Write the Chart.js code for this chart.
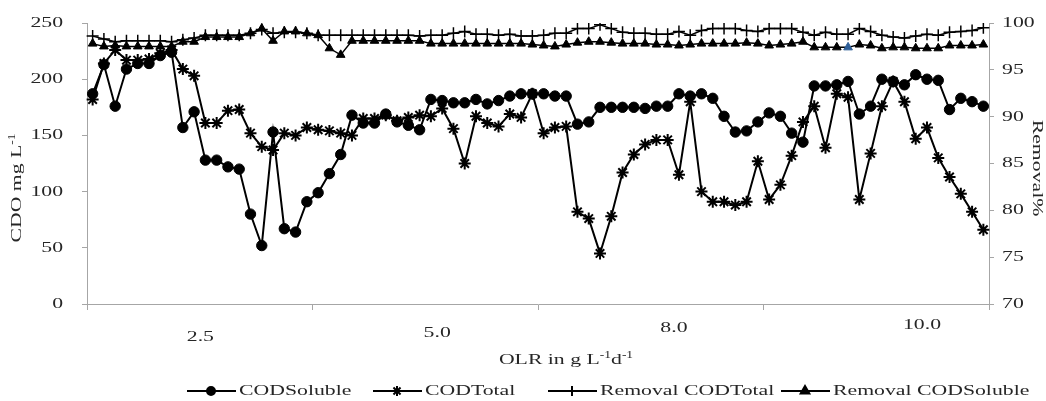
<!DOCTYPE html>
<html>
<head>
<meta charset="utf-8">
<script src="https://cdn.jsdelivr.net/npm/chart.js@4.4.1/dist/chart.umd.min.js"></script>
<style>
  html, body { margin: 0; padding: 0; background: #fff; }
</style>
</head>
<body>
<canvas id="chart" width="1046" height="401"></canvas>
<script>
// sample number along the run (80 samples, OLR rising 2.5 -> 10.0 g/L/d)
const samples = [
  1, 2, 3, 4, 5, 6, 7, 8, 9, 10, 11, 12, 13, 14, 15, 16, 17, 18, 19, 20,
  21, 22, 23, 24, 25, 26, 27, 28, 29, 30, 31, 32, 33, 34, 35, 36, 37, 38, 39, 40,
  41, 42, 43, 44, 45, 46, 47, 48, 49, 50, 51, 52, 53, 54, 55, 56, 57, 58, 59, 60,
  61, 62, 63, 64, 65, 66, 67, 68, 69, 70, 71, 72, 73, 74, 75, 76, 77, 78, 79, 80
];
const olrLabels = ['2.5', '5.0', '8.0', '10.0'];
const olrLabelAt = [10, 31, 52, 74]; // sample index the label sits over

const codSoluble = [
  187, 213, 176, 209, 214, 214, 221, 224, 157, 171, 128, 128, 122, 120, 80, 52, 153, 67, 64, 91,
  99, 116, 133, 168, 161, 161, 169, 162, 159, 155, 182, 181, 179, 179, 182, 178, 181, 185, 187, 187,
  187, 185, 185, 160, 162, 175, 175, 175, 175, 174, 176, 176, 187, 185, 187, 183, 167, 153, 154, 162,
  170, 167, 152, 144, 194, 194, 195, 198, 169, 176, 200, 198, 195, 204, 200, 199, 173, 183, 180, 176
];
const codTotal = [
  182, 214, 226, 217, 217, 218, 223, 226, 209, 203, 161, 161, 172, 173, 152, 140, 137, 152, 150, 157,
  155, 154, 152, 150, 165, 165, 168, 163, 166, 168, 167, 174, 156, 125, 167, 161, 158, 169, 166, 187,
  152, 157, 158, 82, 76, 45, 78, 117, 133, 142, 146, 146, 115, 180, 100, 91, 91, 88, 91, 127,
  93, 106, 132, 162, 176, 139, 187, 184, 93, 134, 176, 198, 180, 147, 157, 130, 113, 98, 82, 66
];
const removalTotal = [
  98.6, 98.3, 98.0, 98.1, 98.1, 98.1, 98.1, 98.0, 98.2, 98.4, 98.7, 98.7, 98.7, 98.7, 98.9, 99.3, 98.9, 99.0, 99.0, 98.9,
  98.7, 98.7, 98.7, 98.7, 98.7, 98.7, 98.7, 98.7, 98.7, 98.6, 98.7, 98.7, 98.9, 99.1, 98.8, 98.8, 98.7, 98.8, 98.6, 98.6,
  98.7, 98.9, 98.9, 99.4, 99.4, 99.8, 99.4, 99.0, 98.9, 98.9, 98.8, 98.8, 99.1, 98.7, 99.2, 99.4, 99.4, 99.4, 99.2, 99.1,
  99.4, 99.4, 99.4, 99.0, 98.7, 99.0, 98.8, 98.8, 99.4, 99.1, 98.7, 98.5, 98.4, 98.6, 98.8, 98.7, 99.0, 99.1, 99.2, 99.5
];
const removalSoluble = [
  97.8, 97.5, 97.6, 97.5, 97.5, 97.5, 97.5, 97.5, 98.0, 98.0, 98.5, 98.5, 98.5, 98.5, 98.9, 99.4, 98.1, 99.1, 99.1, 98.9,
  98.7, 97.3, 96.6, 98.1, 98.1, 98.1, 98.1, 98.1, 98.1, 98.1, 97.8, 97.8, 97.8, 97.8, 97.8, 97.8, 97.8, 97.8, 97.8, 97.7,
  97.6, 97.5, 97.7, 97.9, 98.0, 98.0, 97.9, 97.8, 97.8, 97.8, 97.7, 97.7, 97.6, 97.7, 97.8, 97.8, 97.8, 97.8, 97.9, 97.8,
  97.6, 97.7, 97.8, 98.0, 97.4, 97.4, 97.4, 97.4, 97.7, 97.6, 97.3, 97.4, 97.4, 97.3, 97.3, 97.3, 97.6, 97.6, 97.6, 97.7
];

const AXIS = '#a6a6a6';
const INK = '#262626';
const SERIF = '"Liberation Serif", "Times New Roman", serif';
const STRETCH = 1.45; // the original text is drawn wide

// text stretched along its baseline, optionally rotated
function wideText(ctx, text, x, y, size, align, rot) {
  ctx.save();
  ctx.translate(x, y);
  if (rot) ctx.rotate(rot);
  ctx.scale(STRETCH, 1);
  ctx.font = size + 'px ' + SERIF;
  ctx.textAlign = align;
  ctx.textBaseline = 'middle';
  ctx.fillText(text, 0, 0);
  ctx.restore();
}

// text with superscripts: parts = [[text, isSup], ...]
function supText(ctx, parts, cx, cy, size, rot) {
  ctx.save();
  ctx.translate(cx, cy);
  if (rot) ctx.rotate(rot);
  ctx.scale(STRETCH, 1);
  ctx.textBaseline = 'middle';
  ctx.textAlign = 'left';
  let total = 0;
  for (const p of parts) {
    ctx.font = (p[1] ? size * 0.62 : size) + 'px ' + SERIF;
    total += ctx.measureText(p[0]).width;
  }
  let x = -total / 2;
  for (const p of parts) {
    ctx.font = (p[1] ? size * 0.62 : size) + 'px ' + SERIF;
    ctx.fillText(p[0], x, p[1] ? -size * 0.3 : 0);
    x += ctx.measureText(p[0]).width;
  }
  ctx.restore();
}

const freeText = {
  id: 'freeText',
  afterDraw(chart) {
    const ctx = chart.ctx;
    const xs = chart.scales.x, yl = chart.scales.y, yr = chart.scales.y1;
    ctx.save();
    ctx.fillStyle = INK;

    // value axis labels
    for (const t of yl.ticks) wideText(ctx, String(t.value), yl.right - 24, yl.getPixelForValue(t.value), 15, 'right');
    for (const t of yr.ticks) wideText(ctx, String(t.value), yr.left + 13, yr.getPixelForValue(t.value), 15, 'left');

    // axis titles
    supText(ctx, [['CDO mg L', false], ['-1', true]], 17, 188, 15, -Math.PI / 2);
    supText(ctx, [['Removal%', false]], 1037, 168, 15, Math.PI / 2);

    // OLR labels sit at slightly different heights in the original
    const lift = [0, -4, -9, -12];
    olrLabels.forEach((lab, k) => {
      wideText(ctx, lab, xs.getPixelForValue(olrLabelAt[k]) - 5, xs.top + 33 + lift[k], 15, 'center');
    });
    supText(ctx, [['OLR in g L', false], ['-1', true], ['d', false], ['-1', true]], 566, 360, 15);

    // legend: line with marker, then name
    const starts = [187, 373, 548, 781];
    const ly = 391;
    chart.data.datasets.forEach((ds, k) => {
      const x0 = starts[k];
      ctx.strokeStyle = '#000';
      ctx.lineWidth = 2;
      ctx.beginPath();
      ctx.moveTo(x0, ly);
      ctx.lineTo(x0 + 49, ly);
      ctx.stroke();
      ctx.fillStyle = '#000';
      Chart.helpers.drawPoint(ctx, {
        pointStyle: ds.pointStyle, rotation: 0,
        radius: ds.pointStyle === 'circle' ? 4 : 5, borderWidth: 1.5
      }, x0 + 24, ly);
      ctx.fillStyle = INK;
      wideText(ctx, ds.label, x0 + 52, ly, 15, 'left');
    });
    ctx.restore();
  }
};

const sideAxis = (pos, min, max, step, width) => ({
  position: pos, min: min, max: max,
  ticks: { stepSize: step, display: false },
  grid: { drawOnChartArea: false, drawTicks: true, tickLength: 5, color: AXIS },
  border: { color: AXIS, width: 1 },
  afterFit(s) { s.width = width; }
});

new Chart(document.getElementById('chart'), {
  type: 'line',
  data: {
    labels: samples,
    datasets: [
      {
        label: 'CODSoluble', data: codSoluble, yAxisID: 'y',
        borderColor: '#000', backgroundColor: '#000', borderWidth: 2,
        pointStyle: 'circle', pointRadius: 5.2, pointBorderWidth: 1
      },
      {
        label: 'CODTotal', data: codTotal, yAxisID: 'y',
        borderColor: '#000', backgroundColor: '#000', borderWidth: 2,
        pointStyle: 'star', pointRadius: 6, pointBorderWidth: 2
      },
      {
        label: 'Removal CODTotal', data: removalTotal, yAxisID: 'y1',
        borderColor: '#000', backgroundColor: '#000', borderWidth: 1.5,
        pointStyle: 'cross', pointRadius: 6, pointBorderWidth: 1.5
      },
      {
        label: 'Removal CODSoluble', data: removalSoluble, yAxisID: 'y1',
        borderColor: '#000', borderWidth: 1.5,
        backgroundColor: removalSoluble.map((v, i) => i === 67 ? '#2f5f98' : '#000'),
        pointBorderColor: removalSoluble.map((v, i) => i === 67 ? '#2f5f98' : '#000'),
        pointStyle: 'triangle', pointRadius: 5, pointBorderWidth: 1
      }
    ]
  },
  options: {
    responsive: false,
    animation: false,
    devicePixelRatio: 1,
    layout: { padding: { top: 23, left: 0, right: 0, bottom: 0 } },
    elements: { line: { tension: 0 } },
    plugins: { legend: { display: false }, tooltip: { enabled: false } },
    scales: {
      x: {
        type: 'category', offset: true,
        ticks: { display: false },
        grid: {
          offset: true, drawOnChartArea: false, drawTicks: true, tickLength: 6,
          color: (c) => (c.index === undefined || c.index % 20 === 0) ? AXIS : 'rgba(0,0,0,0)'
        },
        border: { color: AXIS, width: 1 },
        afterFit(s) { s.height = 97; }
      },
      y: sideAxis('left', 0, 250, 50, 87),
      y1: sideAxis('right', 70, 100, 5, 57)
    }
  },
  plugins: [freeText]
});
</script>
</body>
</html>
